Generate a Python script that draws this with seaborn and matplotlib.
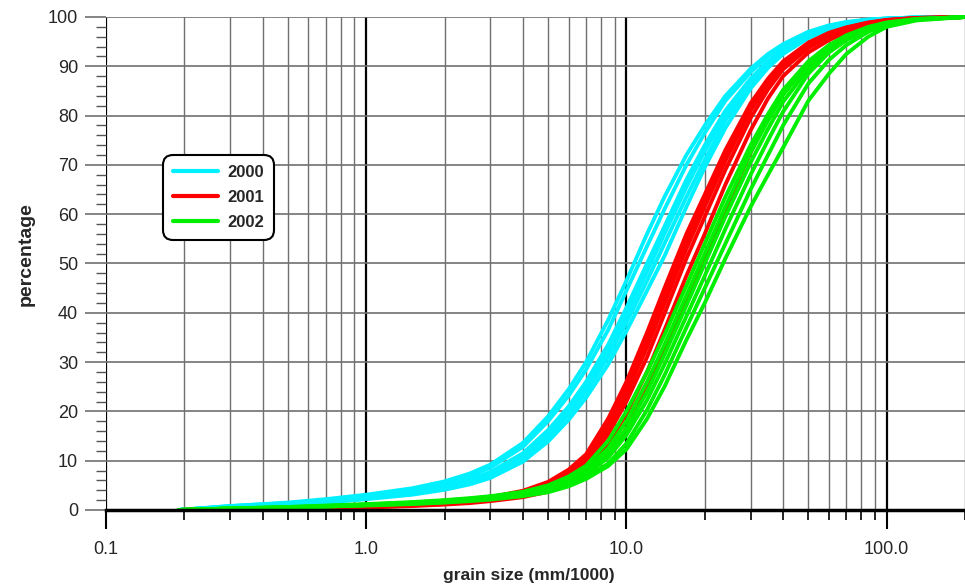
import pandas as pd
import seaborn as sns
import matplotlib.pyplot as plt
from matplotlib.lines import Line2D
from matplotlib.ticker import LogLocator, MultipleLocator, NullFormatter

# grain size (mm/1000) where each cumulative curve was read
grain_size = [0.19, 0.3, 0.5, 0.7, 1, 1.5, 2, 2.5, 3, 4, 5, 6, 7, 8.5, 10,
              12, 14, 17, 20, 24, 30, 35, 40, 50, 60, 70, 85, 100, 130, 200]

curves_2000 = [
    [0, 0.8, 1.5, 2.2, 3.1, 4.4, 5.8, 7.4, 9.2, 13.6, 19.0, 24.5, 30.0, 38.5, 46.5,
     56, 63.5, 72, 78, 84, 89.5, 92.5, 94.5, 97, 98.3, 99, 99.5, 99.7, 99.9, 100],
    [0, 0.8, 1.4, 2.0, 2.9, 4.1, 5.4, 6.9, 8.6, 12.8, 18.0, 23.2, 28.5, 36.5, 44.5,
     53.5, 61, 70, 76.5, 83, 88.8, 92, 94.2, 96.7, 98.1, 98.9, 99.4, 99.7, 99.9, 100],
    [0, 0.7, 1.3, 1.8, 2.6, 3.7, 4.9, 6.2, 7.7, 11.5, 16.2, 21, 26, 33.5, 41,
     50, 57.5, 67, 74, 81, 87.5, 91, 93.5, 96.3, 97.9, 98.7, 99.4, 99.7, 99.9, 100],
    [0, 0.7, 1.2, 1.7, 2.5, 3.5, 4.6, 5.9, 7.3, 11.0, 15.5, 20.2, 25, 32.3, 39.5,
     48.3, 56, 65.5, 72.8, 80.2, 87, 90.7, 93.2, 96.1, 97.8, 98.6, 99.3, 99.6, 99.9, 100],
    [0, 0.6, 1.1, 1.6, 2.3, 3.3, 4.4, 5.6, 7.0, 10.5, 14.8, 19.4, 24, 31, 38,
     46.5, 54, 63.5, 71, 79, 86.3, 90.3, 93, 96, 97.7, 98.5, 99.2, 99.6, 99.9, 100],
    [0, 0.6, 1.0, 1.5, 2.2, 3.1, 4.1, 5.2, 6.5, 9.8, 13.9, 18.3, 22.8, 29.5, 36.3,
     44.5, 51.5, 61.5, 69.5, 77.5, 85.5, 89.7, 92.5, 95.7, 97.5, 98.4, 99.2, 99.6, 99.9, 100],
]

curves_2001 = [
    [0, 0.2, 0.4, 0.6, 0.8, 1.1, 1.5, 2.0, 2.6, 3.9, 5.7, 8.2, 11.3, 18.5, 26,
     36, 45, 56, 64, 73, 82.5, 87.5, 91, 94.8, 96.8, 97.9, 98.9, 99.4, 99.8, 100],
    [0, 0.2, 0.4, 0.6, 0.8, 1.1, 1.5, 1.9, 2.5, 3.7, 5.4, 7.7, 10.6, 17.5, 25,
     34.5, 43.5, 54.5, 63, 72, 81.8, 87, 90.6, 94.5, 96.6, 97.8, 98.8, 99.4, 99.8, 100],
    [0, 0.2, 0.3, 0.5, 0.7, 1.0, 1.4, 1.8, 2.4, 3.5, 5.1, 7.3, 10.0, 16.5, 23.5,
     33, 41.8, 53, 61.5, 70.8, 81, 86.4, 90.2, 94.2, 96.4, 97.7, 98.7, 99.3, 99.8, 100],
    [0, 0.2, 0.3, 0.5, 0.7, 1.0, 1.3, 1.7, 2.2, 3.3, 4.8, 6.8, 9.3, 15.3, 22,
     31, 39.8, 51, 59.5, 69, 79.5, 85.3, 89.4, 93.7, 96, 97.4, 98.5, 99.2, 99.7, 100],
    [0, 0.1, 0.3, 0.4, 0.6, 0.9, 1.2, 1.6, 2.0, 3.0, 4.3, 6.1, 8.3, 13.5, 19.5,
     28, 36.5, 47.5, 56, 66, 77, 83.5, 88, 92.8, 95.3, 96.9, 98.2, 99, 99.7, 100],
    [0, 0.1, 0.2, 0.4, 0.5, 0.8, 1.1, 1.4, 1.8, 2.6, 3.7, 5.2, 7.0, 11, 16.5,
     24.5, 32, 42.5, 51, 61, 72.5, 79.5, 84.5, 90.5, 93.8, 95.8, 97.7, 98.7, 99.6, 100],
]

curves_2002 = [
    [0, 0.3, 0.6, 0.9, 1.2, 1.6, 2.0, 2.4, 2.8, 3.7, 5.0, 6.8, 9.0, 14, 20,
     28, 35.5, 45.5, 54, 63.5, 74, 80.3, 85.2, 91, 94.3, 96.3, 98, 98.9, 99.6, 100],
    [0, 0.3, 0.6, 0.8, 1.1, 1.5, 1.9, 2.3, 2.7, 3.5, 4.7, 6.3, 8.3, 12.5, 18,
     26, 33.5, 43.5, 52, 61.5, 72.5, 79, 84.2, 90.5, 93.9, 96, 97.9, 98.8, 99.6, 100],
    [0, 0.3, 0.5, 0.8, 1.1, 1.4, 1.8, 2.2, 2.6, 3.3, 4.4, 5.9, 7.7, 11.5, 16.5,
     24, 31.5, 41.5, 50, 59.5, 70.5, 77.3, 82.8, 89.5, 93.3, 95.6, 97.6, 98.7, 99.5, 100],
    [0, 0.3, 0.5, 0.7, 1.0, 1.4, 1.7, 2.1, 2.5, 3.2, 4.2, 5.5, 7.2, 10.6, 15.2,
     22.3, 29.5, 39.3, 47.5, 57, 68, 75, 80.8, 88.5, 92.8, 95.3, 97.4, 98.6, 99.5, 100],
    [0, 0.3, 0.5, 0.7, 1.0, 1.3, 1.6, 2.0, 2.3, 3.0, 3.9, 5.1, 6.6, 9.4, 13.5,
     20.3, 27.3, 37, 45, 54, 65, 72, 78, 86.5, 91.3, 94.3, 97, 98.4, 99.5, 100],
    [0, 0.3, 0.5, 0.7, 0.9, 1.2, 1.5, 1.8, 2.1, 2.8, 3.6, 4.8, 6.3, 8.9, 12.3,
     18.5, 25, 34.5, 42, 51, 61.5, 68, 73.5, 83, 88.5, 92.5, 96, 98, 99.3, 100],
]

years = ["2000", "2001", "2002"]
colors = ["#00f0ff", "#ff0000", "#00ee00"]
x_ticks = [0.1, 1, 10, 100]
x_tick_labels = ["0.1", "1.0", "10.0", "100.0"]

rows = []
for year, curves in zip(years, [curves_2000, curves_2001, curves_2002]):
    for i, vals in enumerate(curves):
        for x, y in zip(grain_size, vals):
            rows.append((year, f"{year}-{i}", x, y))
df = pd.DataFrame(rows, columns=["year", "sample", "size", "pct"])

sns.set_style("ticks")
plt.rcParams["font.family"] = ["Liberation Sans", "DejaVu Sans"]

fig = plt.figure(figsize=(9.65, 5.86), dpi=100)
ax = fig.add_axes([0.1098, 0.1297, 0.8902, 0.8413])

sns.lineplot(data=df, x="size", y="pct", hue="year", units="sample",
             estimator=None, sort=False, palette=dict(zip(years, colors)),
             linewidth=2.8, legend=False, ax=ax)
for line in ax.lines:
    line.set_clip_on(False)
    line.set_solid_joinstyle("round")

ax.set_xscale("log")
ax.set_xlim(0.1, 200)
ax.set_ylim(0, 100)
ax.set_xticks(x_ticks)
ax.set_xticklabels(x_tick_labels)
ax.xaxis.set_minor_locator(LogLocator(base=10, subs=range(2, 10)))
ax.xaxis.set_minor_formatter(NullFormatter())
ax.set_yticks(range(0, 101, 10))
ax.yaxis.set_minor_locator(MultipleLocator(2))

ax.grid(which="major", axis="y", color="#707070", lw=1.2)
ax.grid(which="major", axis="x", color="black", lw=1.6)
ax.grid(which="minor", axis="x", color="#707070", lw=1.0)
ax.set_axisbelow(True)

for side in ["top", "right", "left"]:
    ax.spines[side].set_visible(False)
ax.spines["bottom"].set_color("black")
ax.spines["bottom"].set_linewidth(2.5)

ax.tick_params(axis="y", which="major", left=True, length=15, width=1.2,
               color="#707070", pad=5, labelsize=13)
ax.tick_params(axis="y", which="minor", left=True, length=7, width=1, color="#555555")
ax.tick_params(axis="x", which="major", bottom=True, length=14, width=1.5,
               color="black", pad=8, labelsize=13)
ax.tick_params(axis="x", which="minor", bottom=True, length=7, width=1.2, color="black")

ax.set_xlabel("grain size (mm/1000)", fontsize=12.5, fontweight="bold")
ax.set_ylabel("percentage", fontsize=14, fontweight="bold")
ax.xaxis.set_label_coords(0.4925, -0.118)
ax.yaxis.set_label_coords(-0.083, 0.52)

handles = [Line2D([0], [0], color=c, lw=3) for c in colors]
leg = ax.legend(handles, years, loc="upper left", bbox_to_anchor=(0.066, 0.72),
                borderaxespad=0, frameon=True, fancybox=True, edgecolor="black",
                framealpha=1, prop={"weight": "bold", "size": 12},
                handlelength=2.7, handletextpad=0.6, labelspacing=0.6, borderpad=0.6)
leg.get_frame().set_linewidth(1.5)
leg.get_frame().set_boxstyle("round", pad=0, rounding_size=0.6)

fig.savefig("out.png", dpi=100)
